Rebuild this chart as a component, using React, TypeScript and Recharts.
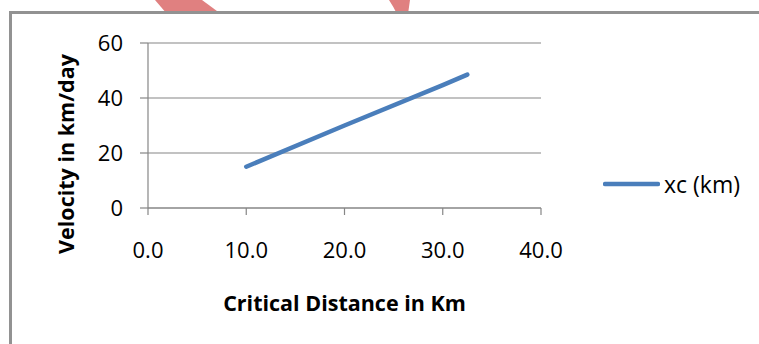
import React from 'react';
import { LineChart, Line, XAxis, YAxis, CartesianGrid, Legend } from 'recharts';

// critical distance (km) vs velocity (km/day)
const distanceKm = [10, 20, 30, 32.5];
const velocityKmDay = [15, 30, 44.7, 48.5];
const xTicks = [0, 10, 20, 30, 40];
const yTicks = [0, 20, 40, 60];
const seriesName = 'xc (km)';

const data = distanceKm.map((d, i) => ({ x: d, v: velocityKmDay[i] }));

const FONT = '"Open Sans", sans-serif';
const AXIS = '#868686';
const BLUE = '#4A7EBB';

const LegendBox = () => (
  <div style={{ display: 'flex', alignItems: 'center', fontFamily: FONT, fontSize: 23, color: '#000' }}>
    <svg width={57} height={8}>
      <line x1={2} y1={4} x2={55} y2={4} stroke={BLUE} strokeWidth={4.5} strokeLinecap="round" />
    </svg>
    <span style={{ marginLeft: 4 }}>{seriesName}</span>
  </div>
);

export default function App() {
  return (
    <div style={{ position: 'absolute', left: 0, top: 0, width: 759, height: 344, overflow: 'hidden', background: '#fff' }}>
      {/* red stripes peeking above the chart frame */}
      <svg width={759} height={20} style={{ position: 'absolute', left: 0, top: 0 }}>
        <polygon points="155,0 202,0 221,14 167,14" fill="#E08080" />
        <path d="M389,0 L410,0 L408,14 L397,14 Q393,6 389,0 Z" fill="#E08080" />
      </svg>
      <div
        style={{
          position: 'absolute',
          left: 9,
          top: 11,
          width: 800,
          height: 400,
          border: '3px solid #929292',
          background: '#fff',
        }}
      />
      <div style={{ position: 'absolute', left: 0, top: 0 }}>
        <LineChart width={759} height={344} data={data} margin={{ top: 43, right: 218, left: 0, bottom: 0 }}>
          <CartesianGrid vertical={false} stroke={AXIS} strokeWidth={1.2} />
          <XAxis
            dataKey="x"
            type="number"
            domain={[0, 40]}
            ticks={xTicks}
            tickFormatter={(t: number) => t.toFixed(1)}
            height={136}
            tickSize={7}
            tickMargin={27}
            stroke={AXIS}
            strokeWidth={1.2}
            tick={{ fill: '#000', fontFamily: FONT, fontSize: 22 }}
            label={{
              content: () => (
                <text x={344.5} y={311} textAnchor="middle" fontFamily={FONT} fontSize={21.5} fontWeight="bold" fill="#000">
                  Critical Distance in Km
                </text>
              ),
            }}
          />
          <YAxis
            type="number"
            domain={[0, 60]}
            ticks={yTicks}
            width={148}
            tickSize={8}
            tickMargin={17}
            stroke={AXIS}
            strokeWidth={1.2}
            tick={{ fill: '#000', fontFamily: FONT, fontSize: 22 }}
            label={{
              content: () => (
                <text
                  x={74}
                  y={154}
                  textAnchor="middle"
                  transform="rotate(-90 74 154)"
                  fontFamily={FONT}
                  fontSize={21.5}
                  fontWeight="bold"
                  fill="#000"
                >
                  Velocity in km/day
                </text>
              ),
            }}
          />
          <Legend
            layout="horizontal"
            align="center"
            verticalAlign="middle"
            content={<LegendBox />}
            wrapperStyle={{ left: 603, top: 168, width: 'auto' }}
          />
          <Line
            type="linear"
            dataKey="v"
            name={seriesName}
            stroke={BLUE}
            strokeWidth={4.5}
            strokeLinecap="round"
            dot={false}
            activeDot={false}
            isAnimationActive={false}
          />
        </LineChart>
      </div>
    </div>
  );
}
